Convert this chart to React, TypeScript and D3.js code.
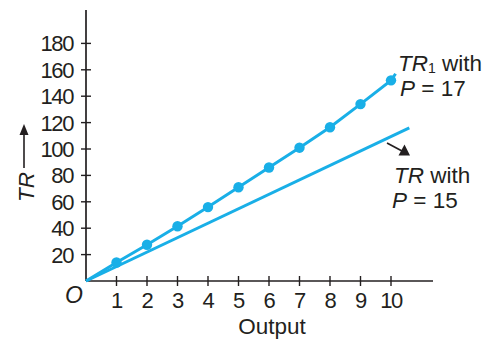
import React from "react";
import * as d3 from "d3";

const outputs = [1, 2, 3, 4, 5, 6, 7, 8, 9, 10];
const tr1Values = [14, 27.5, 41.5, 56, 71, 86, 101, 116.5, 134, 152];
const tr1LineX = [0, 1, 2, 3, 4, 5, 6, 7, 8, 9, 10, 10.15];
const tr1LineY = [0, 14, 27.5, 41.5, 56, 71, 86, 101, 116.5, 134, 152, 157];
const trLineX = [0, 10.6];
const trLineY = [0, 116];
const yTicks = [20, 40, 60, 80, 100, 120, 140, 160, 180];
const xTicks = [1, 2, 3, 4, 5, 6, 7, 8, 9, 10];

const W = 493;
const H = 341;
const BLUE = "#19afe7";
const INK = "#231f20";
const FONT = "'Liberation Sans', Arial, Helvetica, sans-serif";

export default function App() {
  const x = d3.scaleLinear().domain([0, 10]).range([86, 391]);
  const y = d3.scaleLinear().domain([0, 180]).range([281, 281 - 180 * 1.32]);

  const tr1Pts: [number, number][] = tr1LineX.map((v, i) => [v, tr1LineY[i]]);
  const trPts: [number, number][] = trLineX.map((v, i) => [v, trLineY[i]]);
  const line = d3
    .line<[number, number]>()
    .x((d) => x(d[0]))
    .y((d) => y(d[1]));

  const x0 = x(0);
  const y0 = y(0);
  const xEnd = 433;
  const yTop = 10;

  return (
    <svg
      width={W}
      height={H}
      style={{ position: "absolute", left: 0, top: 0, background: "#fff" }}
      fontFamily={FONT}
    >
      {/* axes */}
      <line x1={x0} y1={yTop} x2={x0} y2={y0} stroke={INK} strokeWidth={1.7} />
      <line x1={x0} y1={y0} x2={xEnd} y2={y0} stroke={INK} strokeWidth={1.7} />

      {yTicks.map((t) => (
        <g key={"y" + t}>
          <line x1={x0 - 5} x2={x0 + 5} y1={y(t)} y2={y(t)} stroke={INK} strokeWidth={1.4} />
          <text
            x={x0 - 13}
            y={y(t) + 8}
            textAnchor="end"
            fontSize={22}
            letterSpacing={-1.4}
            fill={INK}
          >
            {t}
          </text>
        </g>
      ))}

      {xTicks.map((t) => (
        <g key={"x" + t}>
          <line x1={x(t)} x2={x(t)} y1={y0 - 5} y2={y0 + 5} stroke={INK} strokeWidth={1.4} />
          <text
            x={x(t)}
            y={307.5}
            textAnchor="middle"
            fontSize={22}
            letterSpacing={-1.4}
            fill={INK}
          >
            {t}
          </text>
        </g>
      ))}

      <text x={74} y={302.5} textAnchor="middle" fontSize={23} fontStyle="italic" fill={INK}>
        O
      </text>

      <text x={272} y={333.5} textAnchor="middle" fontSize={22.5} fill={INK}>
        Output
      </text>

      {/* Y label with arrow */}
      <text
        transform="translate(34,187) rotate(-90)"
        textAnchor="middle"
        fontSize={22.5}
        fontStyle="italic"
        fill={INK}
      >
        TR
      </text>
      <line x1={24} x2={24} y1={168} y2={132} stroke={INK} strokeWidth={1.6} />
      <path d="M24,124 L19.5,135 L28.5,135 Z" fill={INK} />

      {/* TR line (P = 15) */}
      <path d={line(trPts) || ""} fill="none" stroke={BLUE} strokeWidth={3} />
      {/* TR1 line (P = 17) */}
      <path d={line(tr1Pts) || ""} fill="none" stroke={BLUE} strokeWidth={3} />
      {outputs.map((o, i) => (
        <circle key={"p" + o} cx={x(o)} cy={y(tr1Values[i])} r={5.2} fill={BLUE} />
      ))}

      {/* annotations */}
      <text x={398} y={70.5} fontSize={22.5} fill={INK}>
        <tspan fontStyle="italic">TR</tspan>
        <tspan fontSize={14} dy={2.5}>1</tspan>
        <tspan dy={-2.5}> with</tspan>
      </text>
      <text x={400} y={96} fontSize={22.5} fill={INK}>
        <tspan fontStyle="italic">P</tspan>
        <tspan> = 17</tspan>
      </text>

      <line x1={387} y1={143} x2={402} y2={151} stroke={INK} strokeWidth={1.6} />
      <path d="M410,155.5 L398.5,155.5 L404.5,144.5 Z" fill={INK} />

      <text x={394} y={182.5} fontSize={22.5} fill={INK}>
        <tspan fontStyle="italic">TR</tspan>
        <tspan> with</tspan>
      </text>
      <text x={392} y={207.5} fontSize={22.5} fill={INK}>
        <tspan fontStyle="italic">P</tspan>
        <tspan> = 15</tspan>
      </text>
    </svg>
  );
}
